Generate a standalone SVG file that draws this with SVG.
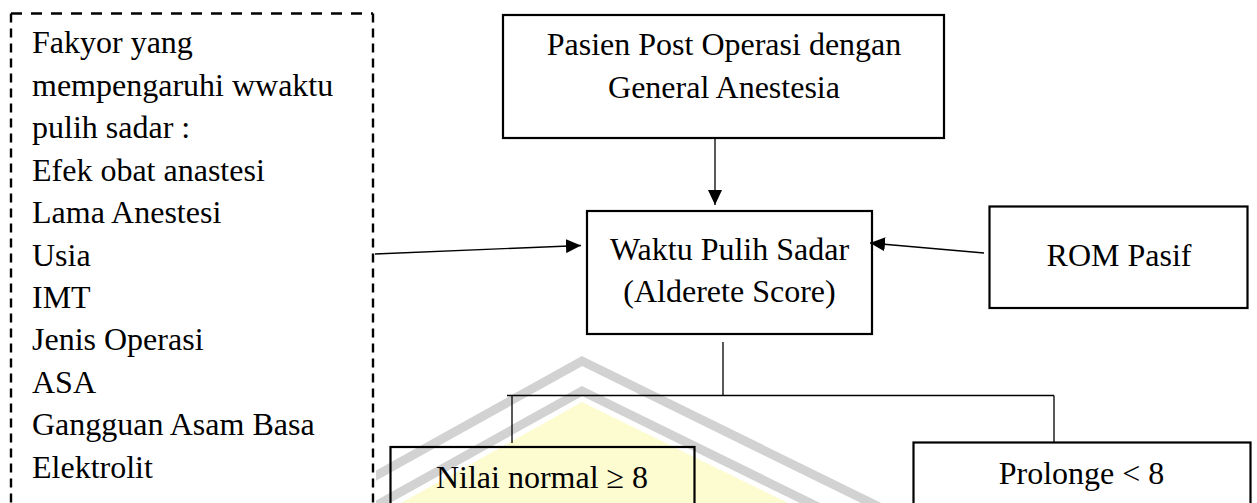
<svg xmlns="http://www.w3.org/2000/svg" width="1257" height="503" viewBox="0 0 1257 503">
  <style>
    .t { font-family: "Liberation Serif", "Times New Roman", serif; font-size: 32px; fill: #000; }
    .m { text-anchor: middle; }
    .box { fill: none; stroke: #000; stroke-width: 2.2; }
    .dh { stroke: #000; stroke-width: 2.4; stroke-dasharray: 11 9; fill: none; }
    .dv { stroke: #000; stroke-width: 2.4; stroke-dasharray: 9 6; fill: none; }
    .c { stroke: #000; stroke-width: 1.3; fill: none; }
    .wm { fill: none; stroke: #d2d2d2; stroke-width: 9; stroke-linejoin: miter; }
  </style>
  <defs>
    <marker id="ah" markerWidth="15" markerHeight="14" refX="15" refY="7" orient="auto" markerUnits="userSpaceOnUse">
      <path d="M0,0 L15,7 L0,14 z" fill="#000"/>
    </marker>
    <clipPath id="wmclip">
      <rect x="376" y="300" width="700" height="203"/>
    </clipPath>
  </defs>
  <rect width="1257" height="503" fill="#fff"/>

  <g id="watermark" clip-path="url(#wmclip)">
    <polygon points="582,402 340,537 880,548" fill="#fdfbd0"/>
    <polyline class="wm" points="300,518 582,361 920,527"/>
    <polyline class="wm" points="300,548 582,391 920,557"/>
  </g>

  <g id="factors">
    <line class="dh" x1="11" y1="13.5" x2="373" y2="13.5"/>
    <line class="dv" x1="11" y1="13.5" x2="11" y2="510"/>
    <line class="dv" x1="373" y1="13.5" x2="373" y2="510"/>
    <text class="t" x="32" y="53.3">Fakyor yang</text>
    <text class="t" x="32" y="95.7">mempengaruhi wwaktu</text>
    <text class="t" x="32" y="138.2">pulih sadar :</text>
    <text class="t" x="32" y="180.6">Efek obat anastesi</text>
    <text class="t" x="32" y="223.1">Lama Anestesi</text>
    <text class="t" x="32" y="265.5">Usia</text>
    <text class="t" x="32" y="308">IMT</text>
    <text class="t" x="32" y="350.4">Jenis Operasi</text>
    <text class="t" x="32" y="392.9">ASA</text>
    <text class="t" x="32" y="435.3">Gangguan Asam Basa</text>
    <text class="t" x="32" y="477.8">Elektrolit</text>
  </g>

  <g id="pasien">
    <rect class="box" x="503" y="15" width="441" height="123"/>
    <text class="t m" x="724" y="55">Pasien Post Operasi dengan</text>
    <text class="t m" x="724" y="98">General Anestesia</text>
  </g>

  <g id="waktu">
    <rect class="box" x="587" y="211" width="285" height="123"/>
    <text class="t m" x="729.5" y="260">Waktu Pulih Sadar</text>
    <text class="t m" x="729.5" y="302">(Alderete Score)</text>
  </g>

  <g id="rom">
    <rect class="box" x="989.5" y="206.5" width="258" height="101.5"/>
    <text class="t m" x="1119" y="266">ROM Pasif</text>
  </g>

  <g id="normal">
    <rect class="box" x="390.5" y="447" width="304" height="70"/>
    <text class="t m" x="542" y="488">Nilai normal ≥ 8</text>
  </g>

  <g id="prolonge">
    <rect class="box" x="913.5" y="442.5" width="337" height="80"/>
    <text class="t m" x="1081.5" y="483.5">Prolonge &lt; 8</text>
  </g>

  <g id="connectors">
    <line class="c" x1="715" y1="138" x2="715" y2="205" marker-end="url(#ah)"/>
    <line class="c" x1="375" y1="254" x2="581" y2="245.5" marker-end="url(#ah)"/>
    <line class="c" x1="984" y1="253" x2="870" y2="243" marker-end="url(#ah)"/>
    <path class="c" d="M723,342 V395.5 M507,395.5 H1054 M512,395.5 V443 M1054,395.5 V442"/>
  </g>
</svg>
